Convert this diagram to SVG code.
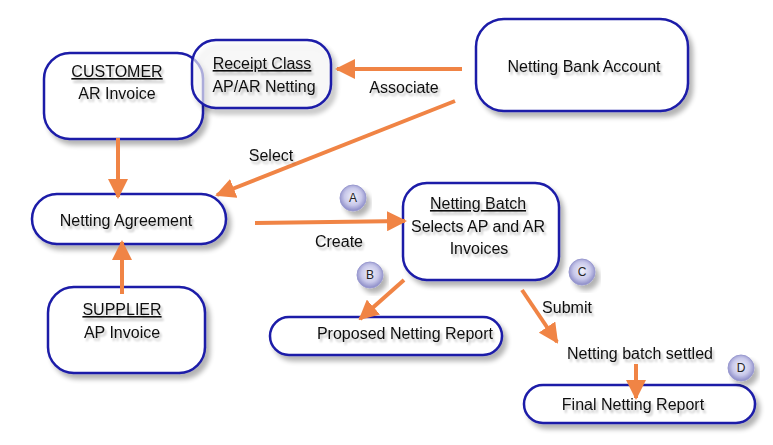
<svg xmlns="http://www.w3.org/2000/svg" width="773" height="445" viewBox="0 0 773 445">
<defs>
<filter id="sh" x="-10%" y="-10%" width="130%" height="140%">
<feGaussianBlur in="SourceAlpha" stdDeviation="2.5"/>
<feOffset dx="4" dy="5" result="b"/>
<feComponentTransfer><feFuncA type="linear" slope="0.3"/></feComponentTransfer>
<feMerge><feMergeNode/><feMergeNode in="SourceGraphic"/></feMerge>
</filter>
<filter id="tsh" x="-10%" y="-30%" width="130%" height="180%">
<feGaussianBlur in="SourceAlpha" stdDeviation="1.2"/>
<feOffset dx="2" dy="3"/>
<feComponentTransfer><feFuncA type="linear" slope="0.25"/></feComponentTransfer>
<feMerge><feMergeNode/><feMergeNode in="SourceGraphic"/></feMerge>
</filter>
<radialGradient id="cg" cx="50%" cy="45%" r="55%">
<stop offset="0" stop-color="#f2f2fb"/>
<stop offset="0.6" stop-color="#c8c8ea"/>
<stop offset="1" stop-color="#8a8ac6"/>
</radialGradient>
<marker id="ah" viewBox="0 0 10 10" refX="9" refY="5" markerWidth="5" markerHeight="5" orient="auto" markerUnits="strokeWidth">
<path d="M0,0 L10,5 L0,10 z" fill="#f08445"/>
</marker>
</defs>
<style>
.box{fill:#fff;stroke:#1c1ca8;stroke-width:2.5;filter:url(#sh)}
.t{font-family:"Liberation Sans","DejaVu Sans",sans-serif;font-size:16px;fill:#111;text-anchor:middle;filter:url(#tsh)}
.u{text-decoration:underline}
.arr{stroke:#f08445;stroke-width:4;fill:none;marker-end:url(#ah)}
.c{fill:url(#cg);stroke:#9a9ad0;stroke-width:1;filter:url(#sh)}
.ct{font-family:"Liberation Sans","DejaVu Sans",sans-serif;font-size:12px;fill:#222;text-anchor:middle}
</style>
<rect width="773" height="445" fill="#fff"/>

<g id="customer">
<rect class="box" x="44" y="53" width="159" height="86" rx="26"/>
<text class="t u" x="117" y="77">CUSTOMER</text>
<text class="t" x="117" y="99">AR Invoice</text>
</g>
<g id="receipt-class">
<rect class="box" x="192" y="40" width="139" height="68" rx="24" fill-opacity="0.6"/>
<text class="t u" x="262" y="69">Receipt Class</text>
<text class="t" x="264" y="92">AP/AR Netting</text>
</g>
<g id="bank-account">
<rect class="box" x="476" y="19" width="212" height="92" rx="28"/>
<text class="t" x="584" y="72">Netting Bank Account</text>
</g>
<g id="agreement">
<rect class="box" x="32" y="194" width="194" height="50" rx="25"/>
<text class="t" x="126" y="226">Netting Agreement</text>
</g>
<g id="supplier">
<rect class="box" x="48" y="287" width="157" height="86" rx="26"/>
<text class="t u" x="122" y="315">SUPPLIER</text>
<text class="t" x="122" y="338">AP Invoice</text>
</g>
<g id="batch">
<rect class="box" x="403" y="183" width="156" height="97" rx="24"/>
<text class="t u" x="478" y="209">Netting Batch</text>
<text class="t" x="478" y="232">Selects AP and AR</text>
<text class="t" x="479" y="254">Invoices</text>
</g>
<g id="proposed-report">
<rect class="box" x="270" y="317" width="232" height="38" rx="19"/>
<text class="t" x="405" y="339">Proposed Netting Report</text>
</g>
<g id="final-report">
<rect class="box" x="524" y="385" width="231" height="38" rx="19"/>
<text class="t" x="633" y="410">Final Netting Report</text>
</g>
<g id="settled">
<text class="t" x="640" y="359">Netting batch settled</text>
</g>

<g id="markers">
<circle class="c" cx="353" cy="198" r="13"/><text class="ct" x="353" y="202">A</text>
<circle class="c" cx="370" cy="275" r="13"/><text class="ct" x="370" y="279">B</text>
<circle class="c" cx="582" cy="272" r="13"/><text class="ct" x="582" y="276">C</text>
<circle class="c" cx="741" cy="368" r="13"/><text class="ct" x="741" y="372">D</text>
</g>

<g id="connectors">
<line class="arr" x1="462" y1="69" x2="337" y2="69"/>
<text class="t" x="404" y="93">Associate</text>
<line class="arr" x1="455" y1="101" x2="217" y2="195"/>
<text class="t" x="271" y="161">Select</text>
<line class="arr" x1="118" y1="138" x2="118" y2="197"/>
<line class="arr" x1="122" y1="294" x2="122" y2="242"/>
<line class="arr" x1="255" y1="223" x2="405" y2="221"/>
<text class="t" x="339" y="247">Create</text>
<line class="arr" x1="404" y1="280" x2="360" y2="319"/>
<line class="arr" x1="522" y1="290" x2="557" y2="342"/>
<text class="t" x="567" y="313">Submit</text>
<line class="arr" x1="636" y1="364" x2="636" y2="398"/>
</g>
</svg>
